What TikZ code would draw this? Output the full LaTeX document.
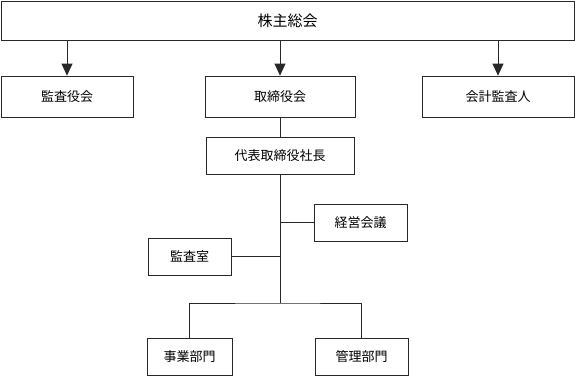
\documentclass[tikz,border=0pt]{standalone}
\usepackage{fontspec}
\usepackage{tikz}
\usetikzlibrary{arrows.meta,positioning,calc}
\newfontfamily\jpfont{Noto Sans CJK JP}
\definecolor{lineGray}{RGB}{40,40,40}

\begin{document}
\begin{tikzpicture}[x=1pt,y=-1pt,
    orgbox/.style={draw=lineGray,line width=0.8pt,fill=white,inner sep=0pt,
                   font=\jpfont\fontsize{13}{15}\selectfont},
    link/.style={draw=lineGray,line width=0.8pt},
    arr/.style={link,-{Triangle[length=12pt,width=11pt]}}]

    \useasboundingbox (0,0) rectangle (575,376);

    % ── TOP ────────────────────────────────────────────────
    \node[orgbox,minimum width=573,minimum height=39,
          font=\jpfont\fontsize{15}{17}\selectfont] (soukai) at (287.5,20.5){株主総会};
    \node[orgbox,minimum width=132,minimum height=41] (kansayaku) at (67,96.5){監査役会};
    \node[orgbox,minimum width=150,minimum height=41] (torikai)   at (280,96.5){取締役会};
    \node[orgbox,minimum width=152,minimum height=41] (kaikei)    at (498,96.5){会計監査人};

    \foreach \dst in {kansayaku,torikai,kaikei}{
      \draw[arr] (soukai.south -| \dst.north) -- (\dst.north);
    }

    % ── EXECUTIVE ──────────────────────────────────────────
    \node[orgbox,minimum width=148,minimum height=37] (shacho)  at (280,155.5){代表取締役社長};
    \node[orgbox,minimum width=93,minimum height=37]  (keiei)   at (360.5,222.5){経営会議};
    \node[orgbox,minimum width=83,minimum height=37]  (kansa)   at (189.5,256.5){監査室};
    \coordinate (split) at (280,303);

    \draw[link] (torikai.south) -- (shacho.north);
    \draw[link] (shacho.south) -- (split);
    \draw[link] (keiei.west) -- (keiei.west -| shacho.south);
    \draw[link] (kansa.east) -- (kansa.east -| shacho.south);

    % ── DIVISIONS ──────────────────────────────────────────
    \node[orgbox,minimum width=85,minimum height=37] (jigyo) at (189.5,356.5){事業部門};
    \node[orgbox,minimum width=93,minimum height=37] (kanri) at (361.5,356.5){管理部門};

    \draw[link] (jigyo.north) |- (split) -| (kanri.north);

  \end{tikzpicture}
\end{document}
